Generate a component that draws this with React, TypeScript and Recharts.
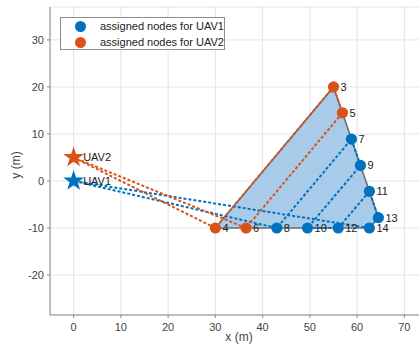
import React from "react";
import {
  CartesianGrid,
  Label,
  LabelList,
  Scatter,
  ScatterChart,
  Symbols,
  XAxis,
  YAxis,
} from "recharts";

const BLUE = "#0072bd";
const ORANGE = "#d95319";

// node positions (m)
const nodeIds = [3, 4, 5, 6, 7, 8, 9, 10, 11, 12, 13, 14];
const nodeX = [55, 30, 56.9, 36.5, 58.8, 43, 60.7, 49.5, 62.6, 56, 64.5, 62.6];
const nodeY = [20, -10, 14.5, -10, 8.9, -10, 3.3, -10, -2.2, -10, -7.8, -10];

const uavNames = ["UAV1", "UAV2"];
const uavX = [0, 0];
const uavY = [0, 5];

const uav1Nodes = [7, 8, 9, 10, 11, 12, 13, 14];
const uav2Nodes = [3, 4, 5, 6];

const uav1Route: (string | number)[] = ["UAV1", 8, 7, 9, 10, 12, 11, 13, 14, "UAV1"];
const uav2Route: (string | number)[] = ["UAV2", 4, 3, 5, 6, "UAV2"];
const hullOrder = [4, 14, 13, 11, 9, 7, 5, 3, 4];

const legendLabels = ["assigned nodes for UAV1", "assigned nodes for UAV2"];

const xTicks = [0, 10, 20, 30, 40, 50, 60, 70];
const yTicks = [-20, -10, 0, 10, 20, 30];

function pt(id: string | number) {
  if (typeof id === "string") {
    const i = uavNames.indexOf(id);
    return { x: uavX[i], y: uavY[i], name: id };
  }
  const i = nodeIds.indexOf(id);
  return { x: nodeX[i], y: nodeY[i], id };
}

const hullData = hullOrder.map(pt);
const uav1RouteData = uav1Route.map(pt);
const uav2RouteData = uav2Route.map(pt);
const uav1NodeData = uav1Nodes.map(pt);
const uav2NodeData = uav2Nodes.map(pt);
const uav1Data = [pt("UAV1")];
const uav2Data = [pt("UAV2")];

const noMarker = () => <g />;
const dot = (color: string) => (p: any) => (
  <circle cx={p.cx} cy={p.cy} r={5.6} fill={color} />
);
const star = (color: string) => (p: any) => (
  <Symbols cx={p.cx} cy={p.cy} type="star" size={135} fill={color} />
);

const axisColor = "#8a8a8a";
const tickStyle = { fill: "#444", fontSize: 11 };

export default function App() {
  return (
    <div
      style={{
        position: "absolute",
        left: 0,
        top: 0,
        width: 419,
        height: 344,
        overflow: "hidden",
        background: "#fff",
        fontFamily: "'Liberation Sans', Arial, sans-serif",
      }}
    >
      <ScatterChart width={440} height={344} margin={{ top: 7, right: 12, bottom: 0, left: 0 }}>
        <CartesianGrid stroke="#e4e4e4" />
        <XAxis
          type="number"
          dataKey="x"
          domain={[-5, 75]}
          ticks={xTicks}
          height={29}
          tickSize={3}
          tickMargin={5}
          tick={tickStyle}
          axisLine={{ stroke: axisColor }}
          tickLine={{ stroke: axisColor }}
        >
          <Label
            content={(props: any) => {
              const vb = props.viewBox;
              return (
                <text x={vb.x + vb.width / 2} y={341} textAnchor="middle" fill="#444" fontSize={12}>
                  x (m)
                </text>
              );
            }}
          />
        </XAxis>
        <YAxis
          type="number"
          dataKey="y"
          domain={[-28.5, 37]}
          ticks={yTicks}
          width={50}
          tickSize={3}
          tickMargin={3}
          tick={tickStyle}
          axisLine={{ stroke: axisColor }}
          tickLine={{ stroke: axisColor }}
        >
          <Label
            content={(props: any) => {
              const vb = props.viewBox;
              const cy = vb.y + vb.height / 2 + 4;
              return (
                <text
                  x={16}
                  y={cy}
                  transform={`rotate(-90 16 ${cy})`}
                  textAnchor="middle"
                  dominantBaseline="central"
                  fill="#444"
                  fontSize={12}
                >
                  y (m)
                </text>
              );
            }}
          />
        </YAxis>

        <Scatter
          data={hullData}
          shape={noMarker}
          line={{ fill: "#a7cbe9", stroke: "#6e6e6e", strokeWidth: 1.6 }}
          lineJointType="linear"
          isAnimationActive={false}
        />
        <Scatter
          data={uav1RouteData}
          shape={noMarker}
          line={{ stroke: BLUE, strokeWidth: 2, strokeDasharray: "3 2" }}
          lineJointType="linear"
          isAnimationActive={false}
        />
        <Scatter
          data={uav2RouteData}
          shape={noMarker}
          line={{ stroke: ORANGE, strokeWidth: 2, strokeDasharray: "3 2" }}
          lineJointType="linear"
          isAnimationActive={false}
        />
        <Scatter data={uav1NodeData} shape={dot(BLUE)} isAnimationActive={false}>
          <LabelList dataKey="id" position="right" offset={2.5} fill="#222" fontSize={11} />
        </Scatter>
        <Scatter data={uav2NodeData} shape={dot(ORANGE)} isAnimationActive={false}>
          <LabelList dataKey="id" position="right" offset={2.5} fill="#222" fontSize={11} />
        </Scatter>
        <Scatter data={uav2Data} shape={star(ORANGE)} isAnimationActive={false}>
          <LabelList dataKey="name" position="right" offset={5} fill="#222" fontSize={11} />
        </Scatter>
        <Scatter data={uav1Data} shape={star(BLUE)} isAnimationActive={false}>
          <LabelList dataKey="name" position="right" offset={5} fill="#222" fontSize={11} />
        </Scatter>
      </ScatterChart>

      <div
        style={{
          position: "absolute",
          left: 60,
          top: 17,
          width: 163,
          height: 31,
          border: "1px solid #8c8c8c",
          background: "#fff",
          fontSize: 11,
          color: "#222",
          whiteSpace: "nowrap",
        }}
      >
        {legendLabels.map((label, i) => (
          <div key={label} style={{ display: "flex", alignItems: "center", height: 16 }}>
            <span
              style={{
                flex: "none",
                width: 11,
                height: 11,
                borderRadius: "50%",
                background: i === 0 ? BLUE : ORANGE,
                marginLeft: 14,
                marginRight: 14,
              }}
            />
            <span>{label}</span>
          </div>
        ))}
      </div>
    </div>
  );
}
